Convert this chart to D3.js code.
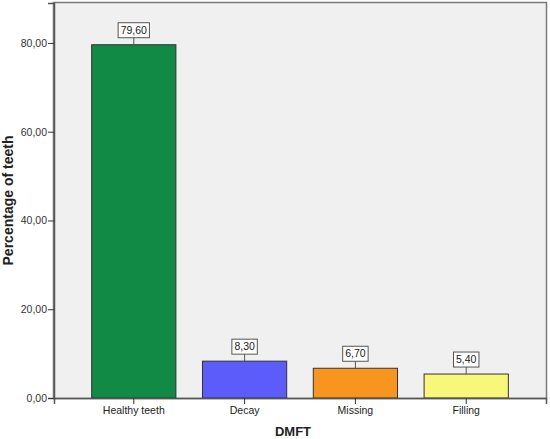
<!DOCTYPE html>
<html>
<head>
<meta charset="utf-8">
<script src="https://cdn.jsdelivr.net/npm/d3@7"></script>
<style>
  body { margin: 0; background: #fff; }
  text { font-family: Arial, "Liberation Sans", sans-serif; }
</style>
</head>
<body>
<script>
const w = 550;
const h = 439;

const categories = ["Healthy teeth", "Decay", "Missing", "Filling"];
const values = [79.60, 8.30, 6.70, 5.40];
const barColors = ["#108a45", "#5c5cfa", "#f7951e", "#f8f77a"];
const yTicks = [0, 20, 40, 60, 80];

const margin = {top: 3, right: 4, bottom: 41, left: 54};
const iw = w - margin.left - margin.right;
const ih = h - margin.top - margin.bottom;

const fmt = v => v.toFixed(2).replace(".", ",");

const svg = d3.select("body")
              .append("svg")
              .attr("width", w)
              .attr("height", h);

const g = svg.append("g")
             .attr("transform", `translate(${margin.left},${margin.top})`);

const x = d3.scaleBand()
            .domain(categories)
            .range([0, iw])
            .paddingInner(0.24)
            .paddingOuter(0.34);

const y = d3.scaleLinear()
            .domain([0, 89])
            .range([ih, 0]);

// plot background + frame
g.append("rect")
  .attr("x", 0).attr("y", 0)
  .attr("width", iw).attr("height", ih)
  .attr("fill", "#f0f0f0");
g.append("rect")
  .attr("x", -0.5).attr("y", -0.5)
  .attr("width", iw + 1).attr("height", ih + 1)
  .attr("fill", "none")
  .attr("stroke", "#7a7a7a")
  .attr("stroke-width", 1.5);

// bars
g.selectAll("rect.bar")
  .data(values)
  .enter()
  .append("rect")
  .attr("class", "bar")
  .attr("x", (d, i) => x(categories[i]))
  .attr("y", d => y(d))
  .attr("width", x.bandwidth())
  .attr("height", d => ih - y(d))
  .attr("fill", (d, i) => barColors[i])
  .attr("stroke", "#333")
  .attr("stroke-width", 1);

// y axis
const yAxis = g.append("g")
  .call(d3.axisLeft(y).tickValues(yTicks).tickFormat(fmt).tickSize(6).tickPadding(1));
yAxis.select(".domain").attr("stroke", "#555").attr("stroke-width", 1.5);
yAxis.selectAll(".tick line").attr("stroke", "#333");
yAxis.selectAll("text").attr("font-size", "10.5px").attr("fill", "#333");

// x axis
const xAxis = g.append("g")
  .attr("transform", `translate(0,${ih})`)
  .call(d3.axisBottom(x).tickSize(6).tickPadding(3));
xAxis.select(".domain").attr("stroke", "#555").attr("stroke-width", 1.5);
xAxis.selectAll(".tick line").attr("stroke", "#333");
xAxis.selectAll("text").attr("font-size", "10.5px").attr("fill", "#222");

// value labels
const lab = g.selectAll("g.lab")
  .data(values)
  .enter()
  .append("g")
  .attr("class", "lab")
  .attr("transform", (d, i) => `translate(${x(categories[i]) + x.bandwidth() / 2},${y(d)})`);

lab.append("line")
  .attr("x1", 0).attr("x2", 0)
  .attr("y1", 0).attr("y2", -7)
  .attr("stroke", "#555");

lab.each(function(d) {
  const s = d3.select(this);
  const t = s.append("text")
    .attr("y", -11)
    .attr("text-anchor", "middle")
    .attr("font-size", "10.5px")
    .attr("fill", "#222")
    .text(fmt(d));
  const bw = t.node().getComputedTextLength() + 5;
  s.insert("rect", "text")
    .attr("x", -bw / 2)
    .attr("y", -22)
    .attr("width", bw)
    .attr("height", 15)
    .attr("fill", "#fff")
    .attr("stroke", "#555");
});

// axis titles
svg.append("text")
  .attr("x", 293)
  .attr("y", 436)
  .attr("text-anchor", "middle")
  .attr("font-size", "13px")
  .attr("font-weight", "bold")
  .attr("fill", "#222")
  .text("DMFT");

svg.append("text")
  .attr("transform", `translate(13,${margin.top + ih / 2}) rotate(-90)`)
  .attr("text-anchor", "middle")
  .attr("font-size", "14px")
  .attr("font-weight", "bold")
  .attr("fill", "#222")
  .text("Percentage of teeth");
</script>
</body>
</html>
